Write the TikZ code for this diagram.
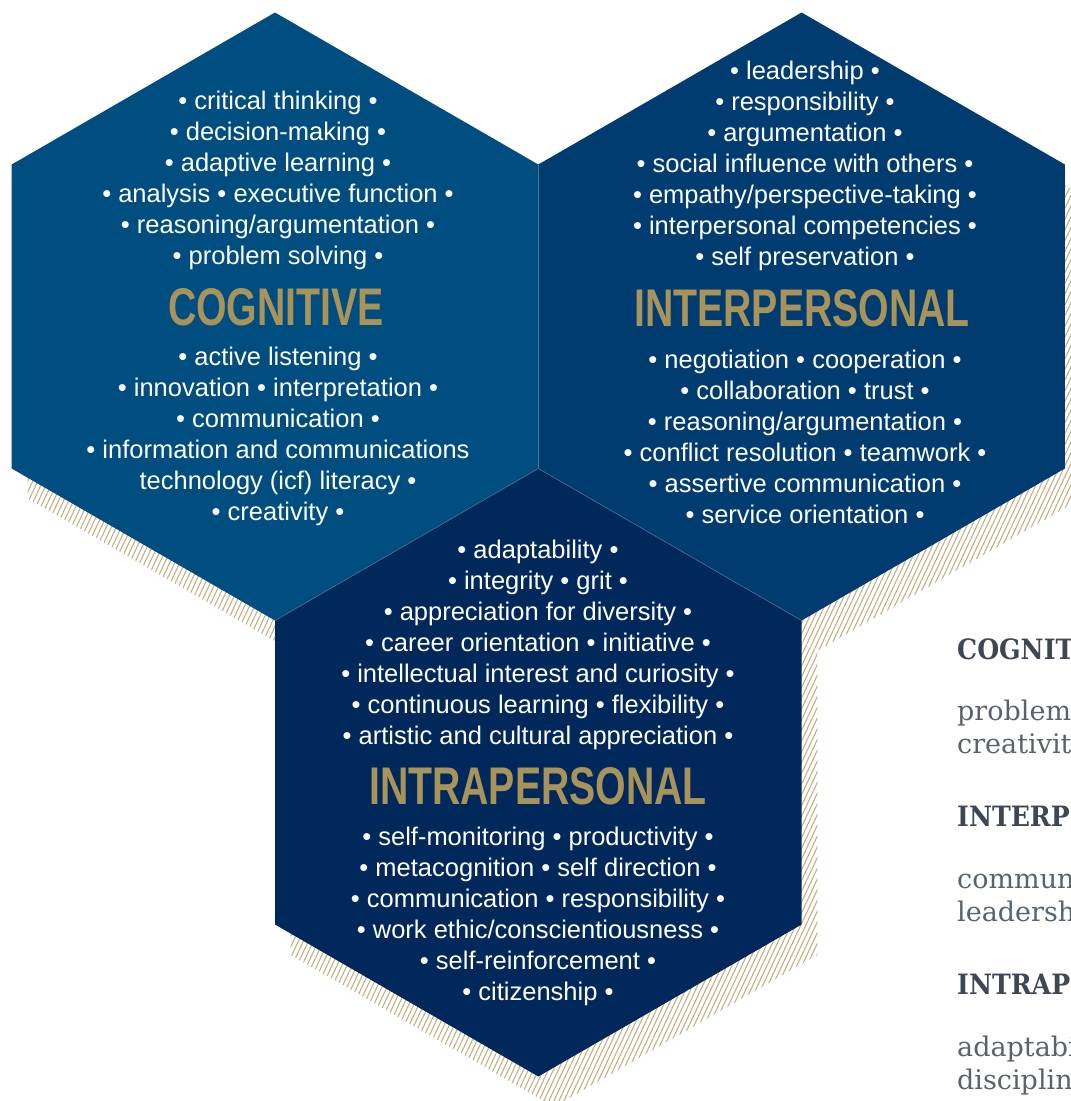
\documentclass[tikz,border=0pt]{standalone}
\usepackage{fontspec}
\setmainfont{Liberation Sans}
\newfontfamily\titlefont[FakeStretch=0.74]{Liberation Sans}
\newfontfamily\slabfont[FakeStretch=0.9]{DejaVu Serif}
\newfontfamily\slabbody{DejaVu Serif}
\definecolor{cogfill}{HTML}{004D80}
\definecolor{interfill}{HTML}{003C70}
\definecolor{intrafill}{HTML}{00285A}
\definecolor{gold}{HTML}{A8945A}
\definecolor{hatchcol}{HTML}{C4B084}
\definecolor{seam}{HTML}{4A7299}
\definecolor{slate}{HTML}{3F4852}
\definecolor{slatelight}{HTML}{59636E}
\newcommand\hexpts[2]{({#1},{#2-304}) -- ({#1+263.3},{#2-152}) -- ({#1+263.3},{#2+152}) -- ({#1},{#2+304}) -- ({#1-263.3},{#2+152}) -- ({#1-263.3},{#2-152}) -- cycle}
\tikzset{
  txt/.style={text=white, align=center, inner sep=0pt, font=\fontsize{25.5}{31}\selectfont},
  ttl/.style={text=gold, anchor=base, inner sep=0pt, font=\titlefont\bfseries\fontsize{53}{53}\selectfont},
  rhead/.style={text=slate, anchor=base west, inner sep=0pt, font=\slabfont\bfseries\fontsize{28}{34}\selectfont},
  rbody/.style={text=slatelight, anchor=base west, inner sep=0pt, font=\slabbody\fontsize{27}{33}\selectfont},
  hatch/.style={draw=hatchcol, line width=1.1pt},
  seamline/.style={draw=seam, line width=0.6pt}
}
\begin{document}
\begin{tikzpicture}[x=1pt,y=-1pt]
\useasboundingbox (0,0) rectangle (1071,1101);
% hatched shadows
\begin{scope}
  \clip \hexpts{291}{346.5} \hexpts{818}{346.5} \hexpts{554}{803};
  \foreach \a in {-540,-535,...,1100} {\draw[hatch] (\a,1120) -- ({\a+522},0);}
\end{scope}
% hexagons
\fill[cogfill] \hexpts{275}{316.5};
\fill[interfill] \hexpts{801.6}{316.5};
\fill[intrafill] \hexpts{538.3}{772.5};
\draw[seamline] (538.3,164.5) -- (538.3,468.5);
\draw[seamline] (275,620.5) -- (538.3,468.5) -- (801.6,620.5);
% cognitive
\node[txt] (cogA) at (278,180.5) {• critical thinking •\\• decision-making •\\• adaptive learning •\\• analysis • executive function •\\• reasoning/argumentation •\\• problem solving •};
\node[ttl] (cogT) at (276,325) {COGNITIVE};
\node[txt] (cogB) at (278,436.5) {• active listening •\\• innovation • interpretation •\\• communication •\\• information and communications\\technology (icf) literacy •\\• creativity •};
% interpersonal
\node[txt] (intA) at (805,165.5) {• leadership •\\• responsibility •\\• argumentation •\\• social influence with others •\\• empathy/perspective-taking •\\• interpersonal competencies •\\• self preservation •};
\node[ttl] (intT) at (802,326) {INTERPERSONAL};
\node[txt] (intB) at (805,436.5) {• negotiation • cooperation •\\• collaboration • trust •\\• reasoning/argumentation •\\• conflict resolution • teamwork •\\• assertive communication •\\• service orientation •};
% intrapersonal
\node[txt] (traA) at (538,645) {• adaptability •\\• integrity • grit •\\• appreciation for diversity •\\• career orientation • initiative •\\• intellectual interest and curiosity •\\• continuous learning • flexibility •\\• artistic and cultural appreciation •};
\node[ttl] (traT) at (538,804) {INTRAPERSONAL};
\node[txt] (traB) at (538,916.5) {• self-monitoring • productivity •\\• metacognition • self direction •\\• communication • responsibility •\\• work ethic/conscientiousness •\\• self-reinforcement •\\• citizenship •};
% right-hand text, cut by the page edge as in the reference
\begin{scope}
  \clip (0,0) rectangle (1071,1101);
  \node[rhead] (h1) at (957,659) {COGNITIVE};
  \node[rbody] (b1) at (957,720) {problem solving,};
  \node[rbody] (b2) at (957,753) {creativity};
  \node[rhead] (h2) at (957,826) {INTERPERSONAL};
  \node[rbody] (b3) at (957,888) {communication,};
  \node[rbody] (b4) at (957,921) {leadership};
  \node[rhead] (h3) at (957,994) {INTRAPERSONAL};
  \node[rbody] (b5) at (957,1056) {adaptability,};
  \node[rbody] (b6) at (957,1089) {discipline};
\end{scope}
\end{tikzpicture}
\end{document}
